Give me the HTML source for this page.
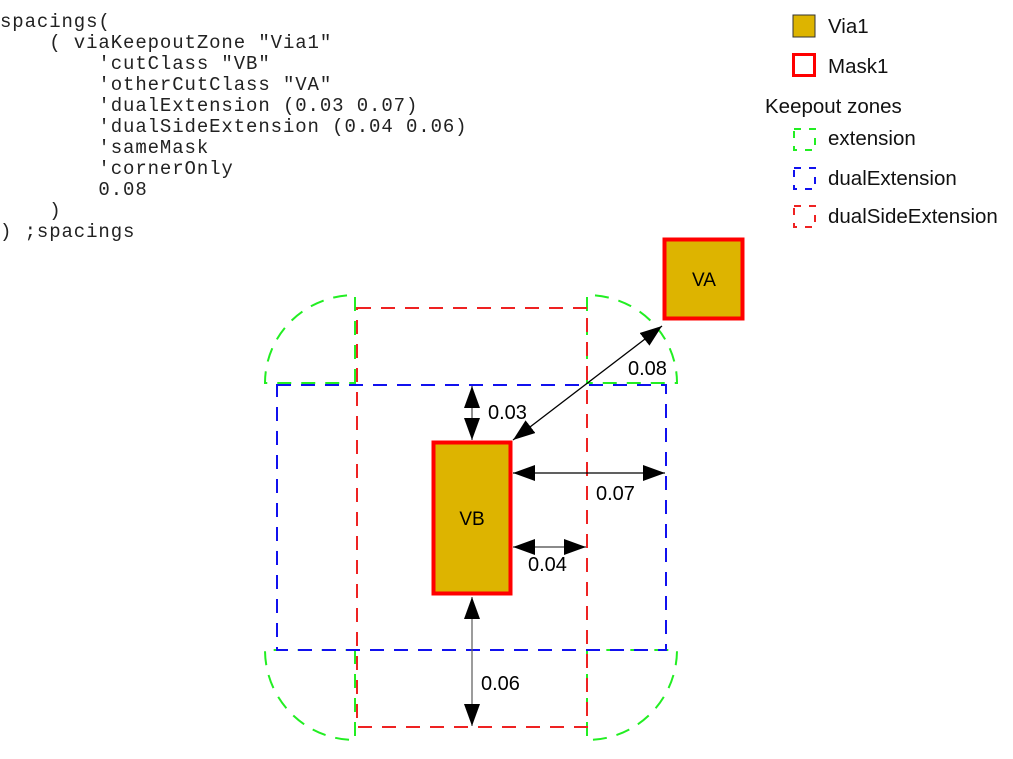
<!DOCTYPE html>
<html><head><meta charset="utf-8"><style>
html,body{margin:0;padding:0;background:#fff;width:1013px;height:759px;overflow:hidden}
pre{position:absolute;left:0;top:12px;margin:0;font-family:"Liberation Mono",monospace;font-size:19px;line-height:21px;letter-spacing:0.9px;color:#222}
svg{position:absolute;left:0;top:0}
</style></head><body>
<pre>spacings(
    ( viaKeepoutZone "Via1"
        'cutClass "VB"
        'otherCutClass "VA"
        'dualExtension (0.03 0.07)
        'dualSideExtension (0.04 0.06)
        'sameMask
        'cornerOnly
        0.08
    )
) ;spacings</pre>
<svg width="1013" height="759" viewBox="0 0 1013 759" font-family="Liberation Sans, sans-serif">
<defs>
<marker id="a" viewBox="0 0 22 16" refX="22" refY="8" markerWidth="22" markerHeight="16" markerUnits="userSpaceOnUse" orient="auto-start-reverse"><path d="M0,0L22,8L0,16z" fill="#000"/></marker>
</defs>
<g fill="none" stroke="#22ee22" stroke-width="2" stroke-dasharray="14,10">
<path d="M355,383 L355,295 A90,88 0 0 0 265,383 Z"/>
<path d="M587,383 L587,295 A90,88 0 0 1 677,383 Z"/>
<path d="M355,650 L355,740 A90,90 0 0 1 265,650 Z"/>
<path d="M587,650 L587,740 A90,90 0 0 0 677,650 Z"/>
</g>
<rect x="357" y="308" width="230" height="419" fill="none" stroke="#ee2222" stroke-width="2" stroke-dasharray="14,10"/>
<rect x="277" y="385" width="389" height="265" fill="none" stroke="#1111ee" stroke-width="2" stroke-dasharray="14,10"/>
<rect x="433.5" y="442.5" width="77" height="151" fill="#ddb400" stroke="#ff0000" stroke-width="4"/>
<text x="472" y="525" font-size="19" text-anchor="middle">VB</text>
<rect x="664.5" y="239.5" width="78" height="79" fill="#ddb400" stroke="#ff0000" stroke-width="4"/>
<text x="704" y="286" font-size="19" text-anchor="middle">VA</text>
<g stroke="#000" stroke-width="1.3" marker-start="url(#a)" marker-end="url(#a)">
<line x1="472" y1="386" x2="472" y2="440" stroke="#555"/>
<line x1="513" y1="440" x2="662" y2="326"/>
<line x1="513" y1="473" x2="665" y2="473"/>
<line x1="513" y1="547" x2="586" y2="547" stroke="#444"/>
<line x1="472" y1="597" x2="472" y2="726" stroke="#666"/>
</g>
<g font-size="20">
<text x="488" y="419">0.03</text>
<text x="628" y="375">0.08</text>
<text x="596" y="500">0.07</text>
<text x="528" y="571">0.04</text>
<text x="481" y="690">0.06</text>
</g>
<rect x="793" y="15" width="22" height="22" fill="#ddb400" stroke="#333" stroke-width="1"/>
<rect x="793.5" y="54.5" width="21" height="21" fill="none" stroke="#ff0000" stroke-width="3"/>
<g fill="none" stroke-width="2" stroke-dasharray="7,8">
<rect x="794" y="129" width="21" height="21" stroke="#22ee22"/>
<rect x="794" y="168" width="21" height="21" stroke="#1111ee"/>
<rect x="794" y="206" width="21" height="21" stroke="#ee2222"/>
</g>
<g font-size="20.5" fill="#111">
<text x="828" y="33">Via1</text>
<text x="828" y="73">Mask1</text>
<text x="765" y="113">Keepout zones</text>
<text x="828" y="145">extension</text>
<text x="828" y="185">dualExtension</text>
<text x="828" y="223">dualSideExtension</text>
</g>
</svg>
</body></html>
